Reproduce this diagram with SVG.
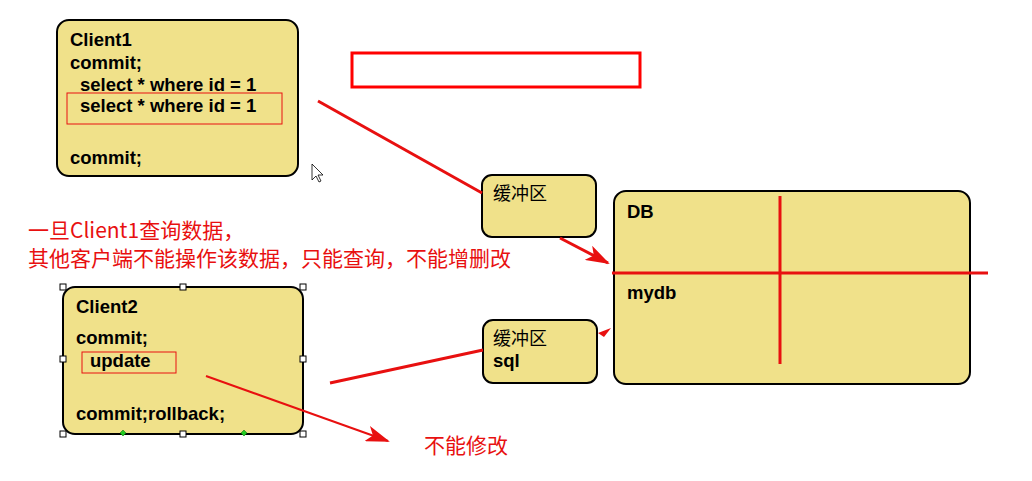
<svg xmlns="http://www.w3.org/2000/svg" width="1032" height="481" viewBox="0 0 1032 481">
<defs>
<marker id="ahb" markerWidth="24" markerHeight="16" refX="22" refY="8" orient="auto" markerUnits="userSpaceOnUse"><path d="M0,0 L24,8 L0,16 L6,8 Z" fill="#e81010"/></marker>
</defs>
<style>
.box{fill:#f0e18a;stroke:#000;stroke-width:2}
.t{font-family:"Liberation Sans",Arial,sans-serif;font-weight:bold;font-size:18.5px;fill:#000}
.c{font-family:"Noto Sans CJK SC","Liberation Serif",serif;font-size:18px;fill:#000}
.r{font-family:"Noto Sans CJK SC",sans-serif;font-size:21px;fill:#e81010}
.ln{stroke:#e81010;stroke-width:3;fill:none}
.h{fill:#fff;stroke:#000;stroke-width:1}
</style>
<rect width="1032" height="481" fill="#fff"/>
<g id="client1">
<rect class="box" x="57" y="20" width="241" height="156" rx="12"/>
<text class="t" x="70" y="46">Client1</text>
<text class="t" x="70" y="69">commit;</text>
<text class="t" x="80" y="91">select * where id = 1</text>
<rect x="67" y="93" width="215" height="31" fill="none" stroke="#e81010" stroke-width="1"/>
<text class="t" x="80" y="112">select * where id = 1</text>
<text class="t" x="70" y="164">commit;</text>
</g>
<g id="redbox"><rect x="352" y="53" width="288" height="34" fill="none" stroke="#ff0000" stroke-width="3"/></g>
<g id="buffer1">
<rect class="box" x="482" y="175" width="114" height="62" rx="10"/>
<text class="c" x="493" y="200">缓冲区</text>
</g>
<g id="buffer2">
<rect class="box" x="483" y="320" width="114" height="63" rx="10"/>
<text class="c" x="493" y="345">缓冲区</text>
<text class="t" x="493" y="367">sql</text>
</g>
<g id="db">
<rect class="box" x="614" y="191" width="356" height="193" rx="12"/>
<text class="t" x="627" y="218">DB</text>
<text class="t" x="627" y="299">mydb</text>
<line class="ln" x1="780" y1="196" x2="780" y2="364"/>
<line class="ln" x1="612" y1="273" x2="988" y2="273"/>
</g>
<g id="client2">
<rect class="box" x="63" y="287" width="240" height="147" rx="12"/>
<text class="t" x="76" y="313">Client2</text>
<text class="t" x="76" y="344">commit;</text>
<rect x="82" y="352" width="94" height="21" fill="none" stroke="#e81010" stroke-width="1"/>
<text class="t" x="90" y="367">update</text>
<text class="t" x="76" y="420">commit;rollback;</text>
<rect class="h" x="60" y="284" width="6" height="6"/><rect class="h" x="180" y="284" width="6" height="6"/><rect class="h" x="300" y="284" width="6" height="6"/>
<rect class="h" x="60" y="356" width="6" height="6"/><rect class="h" x="300" y="356" width="6" height="6"/>
<rect class="h" x="60" y="431" width="6" height="6"/><rect class="h" x="180" y="431" width="6" height="6"/><rect class="h" x="300" y="431" width="6" height="6"/>
<path d="M123,430 l3,3 -3,3 -3,-3Z M244,430 l3,3 -3,3 -3,-3Z" fill="#2c2" stroke="#060" stroke-width="0.5"/>
</g>
<g id="connectors">
<line class="ln" x1="318" y1="101" x2="482" y2="193"/>
<line class="ln" x1="560" y1="238" x2="608" y2="263" marker-end="url(#ahb)"/>
<line class="ln" x1="330" y1="383" x2="483" y2="350"/>
<path d="M598,333 L611,328 L604,337 Z" fill="#e81010"/>
<line x1="206" y1="376" x2="388" y2="441" stroke="#e81010" stroke-width="2" marker-end="url(#ahb)"/>
</g>
<g id="labels">
<text class="r" x="28" y="238">一旦Client1查询数据，</text>
<text class="r" x="28" y="266">其他客户端不能操作该数据，只能查询，不能增删改</text>
<text class="r" x="424" y="453">不能修改</text>
</g>
<path d="M312,164 L312,180 L316,176 L319,182 L321,181 L318,175 L323,175 Z" fill="#fff" stroke="#000" stroke-width="0.8"/>
</svg>
